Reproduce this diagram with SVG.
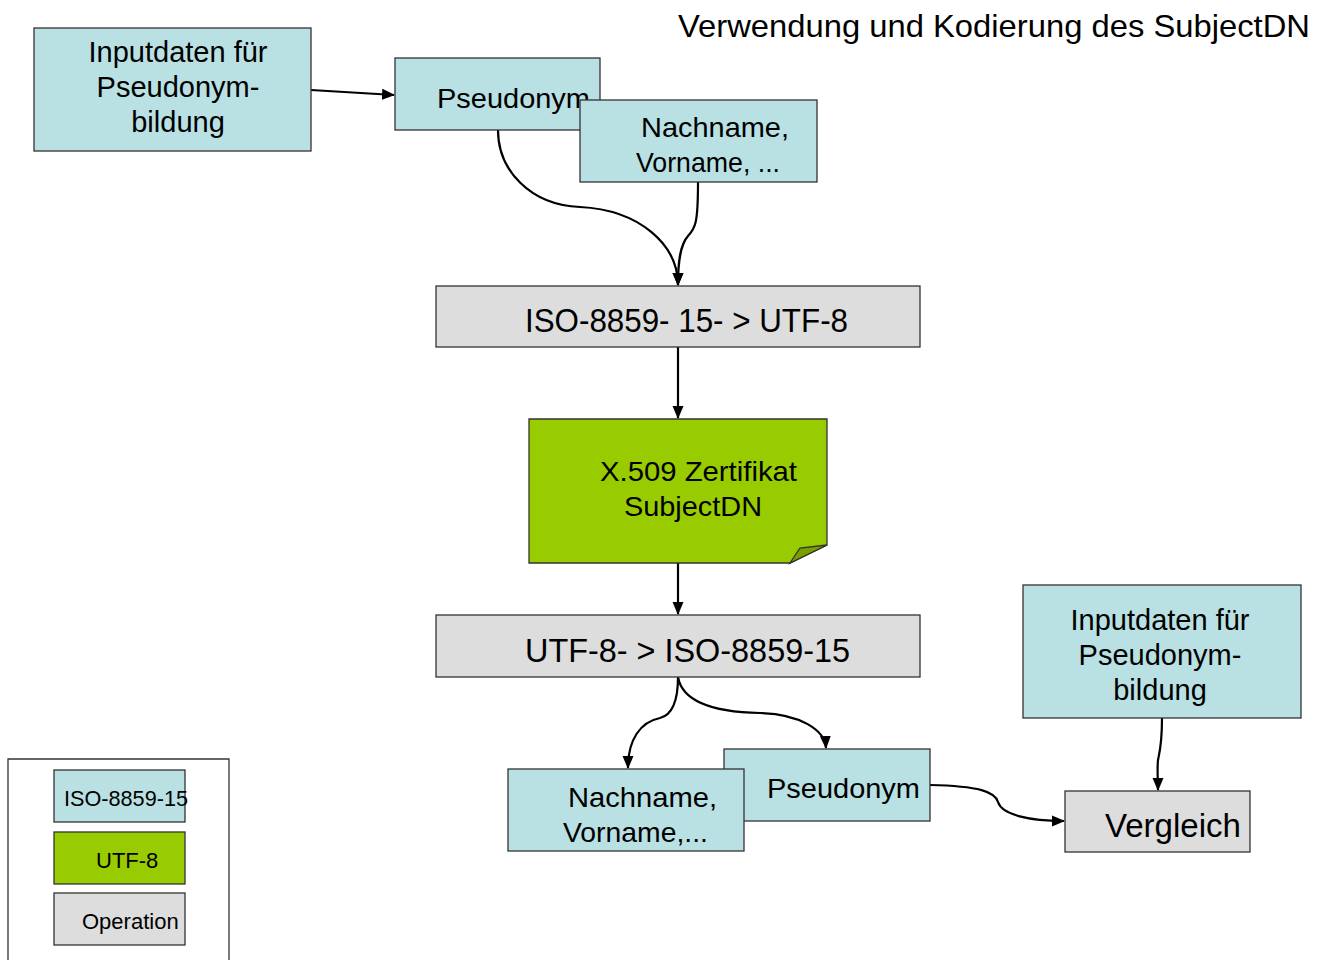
<svg xmlns="http://www.w3.org/2000/svg" width="1328" height="960" viewBox="0 0 1328 960">
<style>
text{font-family:"Liberation Sans",Arial,sans-serif;fill:#000}
.b{fill:#b9e0e3;stroke:#333;stroke-width:1.3}
.g{fill:#dddddd;stroke:#333;stroke-width:1.3}
.u{fill:#99cc00;stroke:#333;stroke-width:1.3}
.c{fill:none;stroke:#000;stroke-width:2.2;marker-end:url(#ah)}
.in{font-size:29px;text-anchor:middle}
</style>
<defs>
<marker id="ah" markerWidth="13" markerHeight="12" refX="12" refY="6" orient="auto" markerUnits="userSpaceOnUse">
<path d="M0,0.5 L13,6 L0,11.5 Z" fill="#000"/>
</marker>
</defs>
<rect width="1328" height="960" fill="#fff"/>
<text x="678" y="37" font-size="32" textLength="632" lengthAdjust="spacingAndGlyphs">Verwendung und Kodierung des SubjectDN</text>

<g id="legend">
<path d="M8,960 L8,759 L229,759 L229,960" fill="none" stroke="#333" stroke-width="1.3"/>
<rect class="b" x="54" y="770" width="131" height="52"/>
<text x="64" y="806" font-size="22" textLength="124" lengthAdjust="spacingAndGlyphs">ISO-8859-15</text>
<rect class="u" x="54" y="832" width="131" height="52"/>
<text x="96" y="868" font-size="22">UTF-8</text>
<rect class="g" x="54" y="893" width="131" height="52"/>
<text x="82" y="929" font-size="22">Operation</text>
</g>

<g id="connectors">
<path class="c" d="M311,90 L394,95"/>
<path class="c" d="M498,130 C498,170 530,205 580,207 C640,210 678,245 678,285"/>
<path class="c" d="M698,182 C698,225 695,228 688,236 C680,245 678,262 678,285"/>
<path class="c" d="M678,347 L678,418"/>
<path class="c" d="M678,563 L678,614"/>
<path class="c" d="M678,677 C678,700 672,715 660,718 C640,722 628,740 628,768"/>
<path class="c" d="M678,677 C682,700 710,712 760,713 C800,714 825,730 826,748"/>
<path class="c" d="M930,785 C980,786 995,792 998,802 C1002,815 1030,821 1064,821"/>
<path class="c" d="M1162,718 C1162,745 1159,755 1158,760 C1157,770 1158,780 1158,790"/>
</g>

<g id="input1">
<rect class="b" x="34" y="28" width="277" height="123"/>
<text x="178" y="62" class="in">Inputdaten für</text>
<text x="178" y="97" class="in">Pseudonym-</text>
<text x="178" y="132" class="in">bildung</text>
</g>

<g id="pseudonym1">
<rect class="b" x="395" y="58" width="205" height="72"/>
<text x="437" y="108" font-size="28" textLength="153" lengthAdjust="spacingAndGlyphs">Pseudonym</text>
</g>

<g id="nachname1">
<rect class="b" x="580" y="100" width="237" height="82"/>
<text x="641" y="137" font-size="28" textLength="148" lengthAdjust="spacingAndGlyphs">Nachname,</text>
<text x="636" y="172" font-size="28" textLength="144" lengthAdjust="spacingAndGlyphs">Vorname, ...</text>
</g>

<g id="op1">
<rect class="g" x="436" y="286" width="484" height="61"/>
<text x="525" y="332" font-size="34" textLength="323" lengthAdjust="spacingAndGlyphs">ISO-8859- 15- &gt; UTF-8</text>
</g>

<g id="cert">
<path class="u" d="M529,419 L827,419 L827,545 L790,563 L529,563 Z"/>
<path d="M790,563 L800,548 L827,545 Z" fill="#7a9f00" stroke="#333" stroke-width="1.3"/>
<text x="600" y="481" font-size="28" textLength="197" lengthAdjust="spacingAndGlyphs">X.509 Zertifikat</text>
<text x="624" y="516" font-size="28" textLength="138" lengthAdjust="spacingAndGlyphs">SubjectDN</text>
</g>

<g id="op2">
<rect class="g" x="436" y="615" width="484" height="62"/>
<text x="525" y="662" font-size="34" textLength="325" lengthAdjust="spacingAndGlyphs">UTF-8- &gt; ISO-8859-15</text>
</g>

<g id="pseudonym2">
<rect class="b" x="724" y="749" width="206" height="72"/>
<text x="767" y="798" font-size="28" textLength="153" lengthAdjust="spacingAndGlyphs">Pseudonym</text>
</g>

<g id="nachname2">
<rect class="b" x="508" y="769" width="236" height="82"/>
<text x="568" y="807" font-size="28" textLength="149" lengthAdjust="spacingAndGlyphs">Nachname,</text>
<text x="563" y="842" font-size="28" textLength="145" lengthAdjust="spacingAndGlyphs">Vorname,...</text>
</g>

<g id="input2">
<rect class="b" x="1023" y="585" width="278" height="133"/>
<text x="1160" y="630" class="in">Inputdaten für</text>
<text x="1160" y="665" class="in">Pseudonym-</text>
<text x="1160" y="700" class="in">bildung</text>
</g>

<g id="vergleich">
<rect class="g" x="1065" y="791" width="185" height="61"/>
<text x="1105" y="837" font-size="34" textLength="136" lengthAdjust="spacingAndGlyphs">Vergleich</text>
</g>
</svg>
